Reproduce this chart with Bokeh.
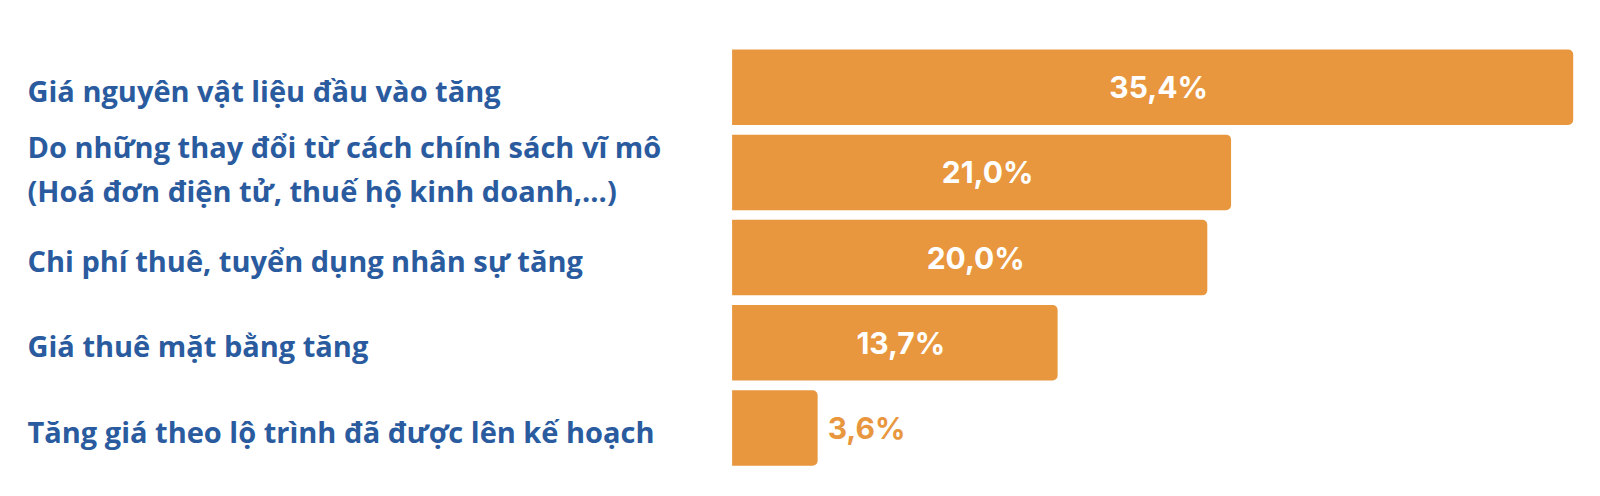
"""Lý do tăng giá - biểu đồ thanh ngang."""
from bokeh.core.properties import value
from bokeh.embed import file_html
from bokeh.models import ColumnDataSource, Range1d
from bokeh.plotting import figure
from bokeh.resources import INLINE

reasons = [
    "Giá nguyên vật liệu đầu vào tăng",
    "Do những thay đổi từ cách chính sách vĩ mô\n(Hoá đơn điện tử, thuế hộ kinh doanh,...)",
    "Chi phí thuê, tuyển dụng nhân sự tăng",
    "Giá thuê mặt bằng tăng",
    "Tăng giá theo lộ trình đã được lên kế hoạch",
]
shares = [35.4, 21.0, 20.0, 13.7, 3.6]
share_labels = ["35,4%", "21,0%", "20,0%", "13,7%", "3,6%"]

BLUE = "#2a5b9f"
ORANGE = "#e8973f"
W, H = 1584, 480
PX_X = 23.76   # pixel / %
PX_Y = 85.2    # pixel / hàng

pos = list(range(len(reasons)))
inside = [s >= 8 for s in shares]
# nhãn hai dòng hơi nhích lên
yoff = [-4 if "\n" in r else 3 for r in reasons]

src = ColumnDataSource(dict(y=pos, share=shares, reason=reasons, yoff=yoff))
src_in = ColumnDataSource(dict(
    y=[p for p, i in zip(pos, inside) if i],
    x=[s / 2 for s, i in zip(shares, inside) if i],
    t=[t for t, i in zip(share_labels, inside) if i],
))
src_out = ColumnDataSource(dict(
    y=[p for p, i in zip(pos, inside) if not i],
    x=[s for s, i in zip(shares, inside) if not i],
    t=[t for t, i in zip(share_labels, inside) if not i],
))

x0 = -731.6 / PX_X
y0 = -86.7 / PX_Y
p = figure(
    width=W, height=H,
    x_range=Range1d(x0, x0 + W / PX_X),
    y_range=Range1d(y0 + H / PX_Y, y0),
    output_backend="svg", toolbar_location=None,
    min_border=0, outline_line_color=None,
)
p.axis.visible = False
p.grid.visible = False

p.hbar(y="y", left=0, right="share", height=0.886, source=src,
       fill_color=ORANGE, line_color=None, border_radius=(0, 5, 5, 0))

p.text(x=x0, y="y", text="reason", source=src, x_offset=27, y_offset="yoff",
       text_font=value("Open Sans"), text_font_style="bold", text_font_size="29px",
       text_color=BLUE, text_baseline="middle", text_align="left",
       text_line_height=1.14)

p.text(x="x", y="y", text="t", source=src_in, x_offset=6,
       text_font=value("Inter"), text_font_style="bold", text_font_size="30px",
       text_color="white", text_baseline="middle", text_align="center")
p.text(x="x", y="y", text="t", source=src_out, x_offset=10,
       text_font=value("Inter"), text_font_style="bold", text_font_size="30px",
       text_color=ORANGE, text_baseline="middle", text_align="left")

open("out.html", "w").write(file_html(p, INLINE))
